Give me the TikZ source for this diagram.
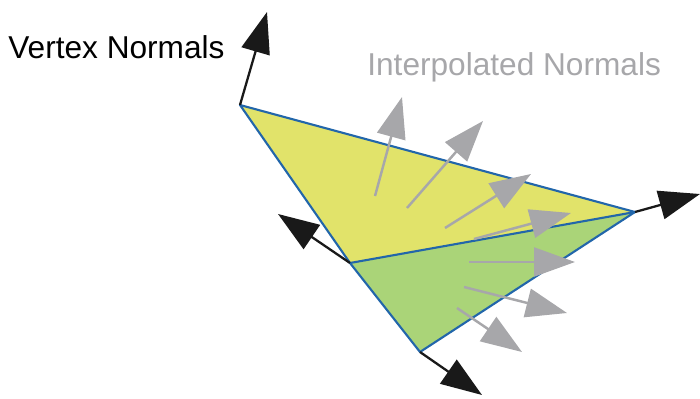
\documentclass[tikz,border=0pt]{standalone}
\usepackage{fontspec}
\setmainfont{Liberation Sans}
\usetikzlibrary{arrows.meta}
\definecolor{faceyellow}{RGB}{225,227,106}
\definecolor{facegreen}{RGB}{170,212,120}
\definecolor{edgeblue}{RGB}{34,102,170}
\definecolor{interpgray}{RGB}{167,167,170}
\begin{document}
\begin{tikzpicture}[x=0.02cm,y=-0.02cm,
  every node/.append style={font=\fontsize{18}{20}\selectfont,inner sep=0pt},
  face/.style={draw=edgeblue,line width=1.2pt,line join=round},
  vnormal/.style={line width=1.3pt,black!90,-{Triangle[length=0.82cm,width=0.58cm]}},
  inormal/.style={line width=1.4pt,interpgray,-{Triangle[length=0.82cm,width=0.58cm]}}]
  \useasboundingbox (0,0) rectangle (700,399);
  % triangle corners
  \coordinate (va) at (240,105);
  \coordinate (vb) at (635,212);
  \coordinate (vc) at (350,263);
  \coordinate (vd) at (420,352);
  \fill[faceyellow] (va) -- (vb) -- (vc) -- cycle;
  \fill[facegreen] (vc) -- (vb) -- (vd) -- cycle;
  \draw[face] (va) -- (vb) -- (vd) -- (vc) -- cycle;
  \draw[face] (vc) -- (vb);

  % interpolated normals
  \coordinate (i1) at (375,196); \coordinate (j1) at (402,97);
  \coordinate (i2) at (407,208); \coordinate (j2) at (483,121);
  \coordinate (i3) at (445,228); \coordinate (j3) at (531,174);
  \coordinate (i4) at (474,239); \coordinate (j4) at (571,213);
  \coordinate (i5) at (469,262); \coordinate (j5) at (575,262);
  \coordinate (i6) at (464,287); \coordinate (j6) at (567,313);
  \coordinate (i7) at (457,308); \coordinate (j7) at (522,352);
  \draw[inormal] (i1) -- (j1);
  \draw[inormal] (i2) -- (j2);
  \draw[inormal] (i3) -- (j3);
  \draw[inormal] (i4) -- (j4);
  \draw[inormal] (i5) -- (j5);
  \draw[inormal] (i6) -- (j6);
  \draw[inormal] (i7) -- (j7);

  % vertex normals
  \coordinate (na) at (267,12);
  \coordinate (nb) at (700,194);
  \coordinate (nc) at (278,214);
  \coordinate (nd) at (482,395);
  \draw[vnormal] (va) -- (na);
  \draw[vnormal] (vb) -- (nb);
  \draw[vnormal] (vc) -- (nc);
  \draw[vnormal] (vd) -- (nd);

  \node[anchor=west] (vlabel) at (8,47) {Vertex Normals};
  \node[anchor=west,text=interpgray] (ilabel) at (367,67) {Interpolated Normals};
\end{tikzpicture}
\end{document}
